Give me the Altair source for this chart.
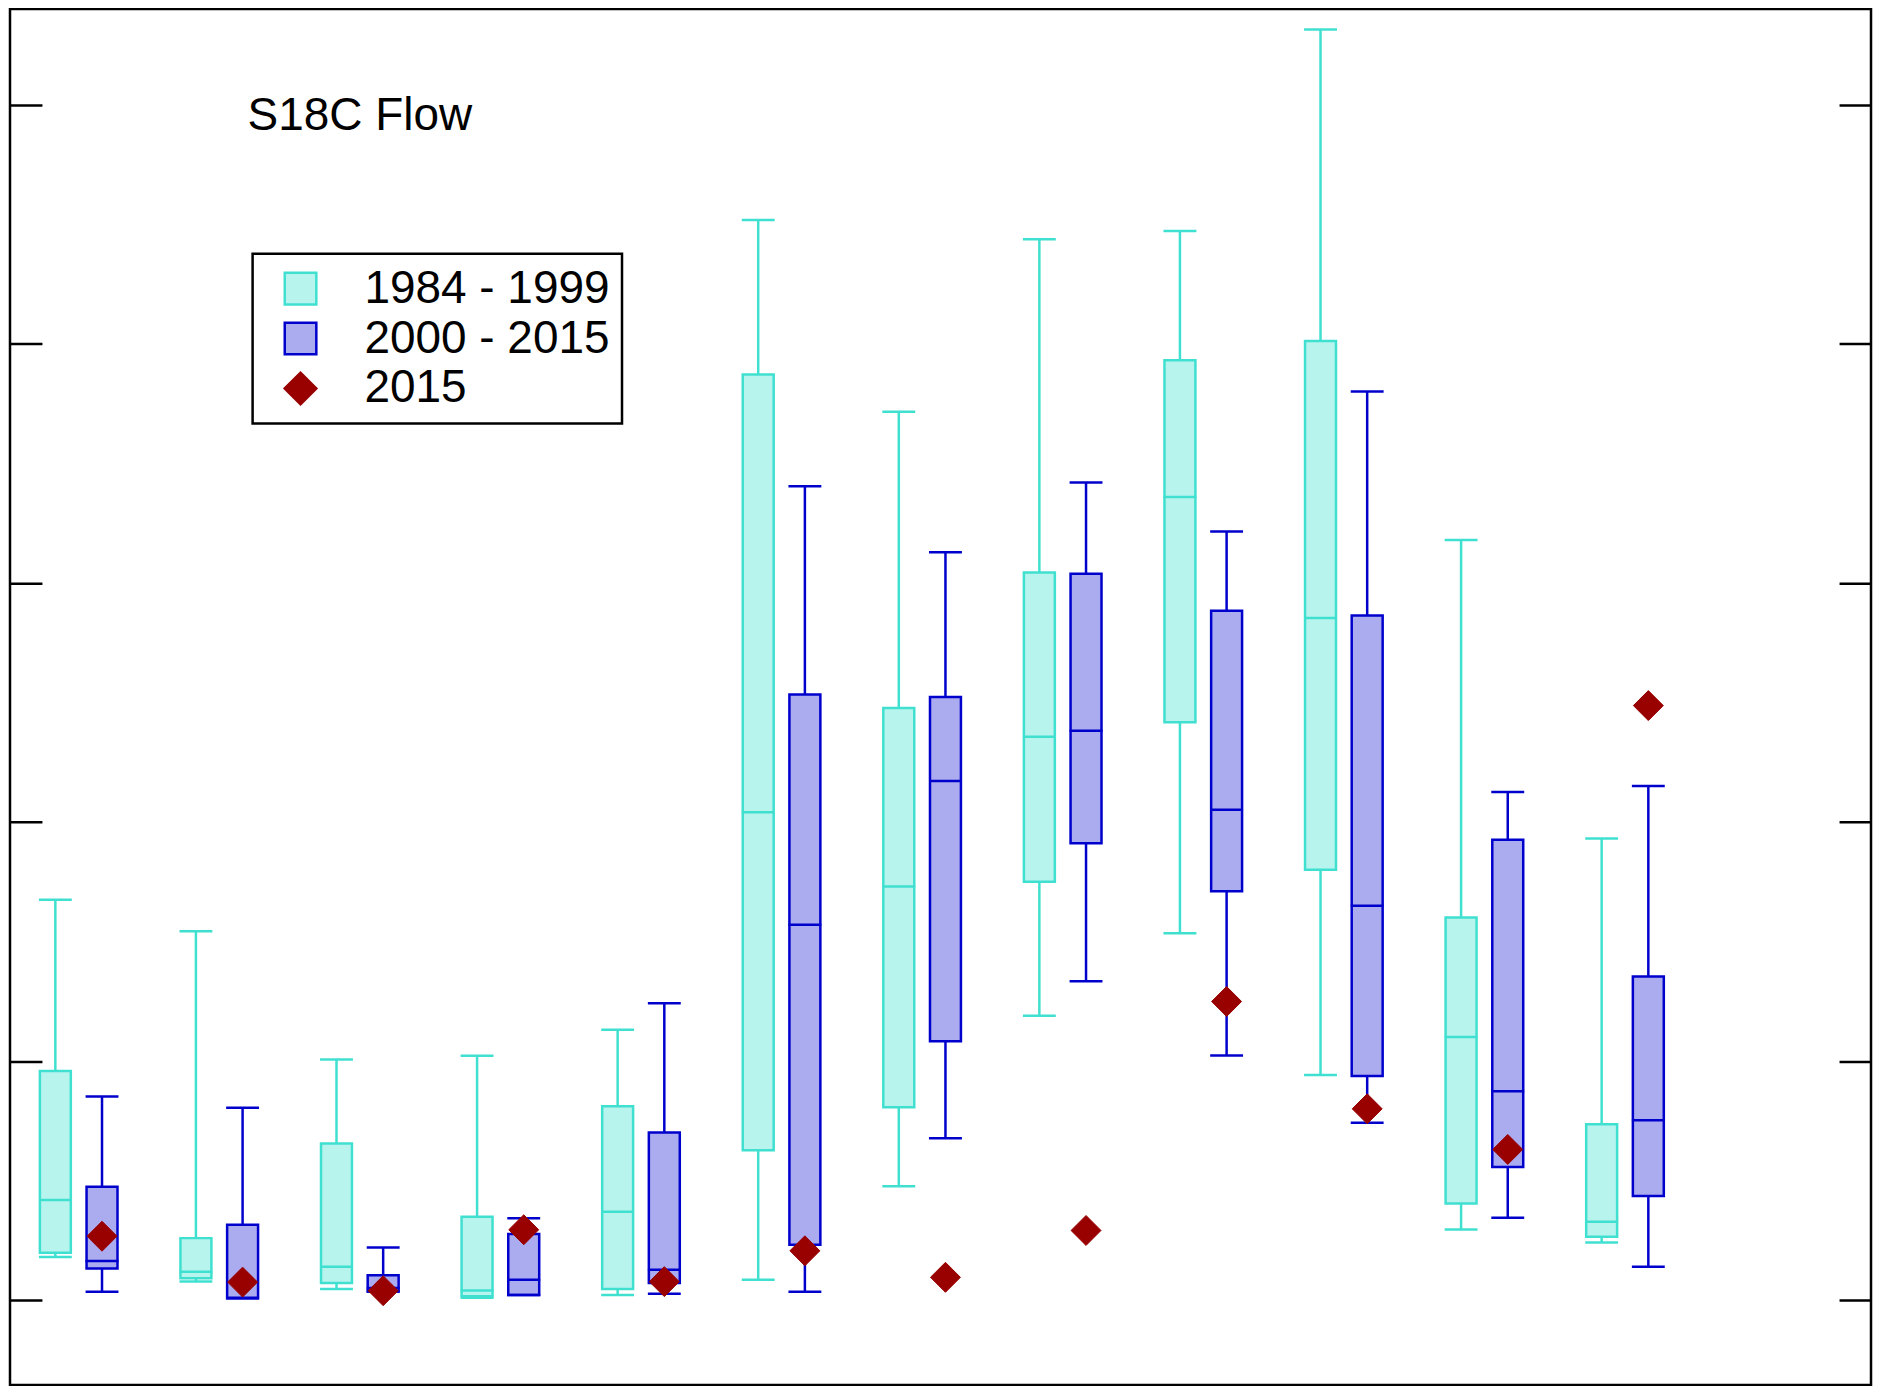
import altair as alt
import pandas as pd

months = list(range(1, 13))
series_names = ["1984 - 1999", "2000 - 2015", "2015"]

# 1984 - 1999 box statistics
a_low  = [180,   78,   46,   10,   21,   85,  476, 1189, 1535,  941,  295,  241]
a_q1   = [198,   91,   71,   16,   46,  627,  807, 1750, 2417, 1800,  404,  265]
a_med  = [418,  118,  139,   40,  369, 2041, 1730, 2357, 3360, 2854, 1100,  327]
a_q3   = [958,  259,  655,  348,  811, 3872, 2477, 3044, 3932, 4012, 1600,  735]
a_high = [1675, 1543, 1006, 1022, 1131, 4519, 3716, 4438, 4473, 5316, 3180, 1931]

# 2000 - 2015 box statistics
b_low  = [35,     7,   36,   21,   26,   35,  677, 1334, 1023,  742,  344,  139]
b_q1   = [132,    7,   36,   21,   71,  231, 1083, 1911, 1710,  937,  557,  435]
b_med  = [163,   10,   50,   85,  127, 1570, 2172, 2382, 2051, 1650,  873,  752]
b_q3   = [474,  315,  104,  276,  701, 2533, 2523, 3039, 2884, 2864, 1926, 1354]
b_high = [852,  804,  220,  342, 1242, 3405, 3129, 3420, 3215, 3801, 2126, 2151]

# 2015 observations
obs_2015 = [267, 75, 39, 294, 77, 206, 95, 291, 1249, 800, 630, 2487]

y_ticks = [0, 1000, 2000, 3000, 4000, 5000]

rows = []
for i, m in enumerate(months):
    rows.append(dict(month=m, series=series_names[0], low=a_low[i], q1=a_q1[i],
                     med=a_med[i], q3=a_q3[i], high=a_high[i]))
    rows.append(dict(month=m, series=series_names[1], low=b_low[i], q1=b_q1[i],
                     med=b_med[i], q3=b_q3[i], high=b_high[i]))
box_df = pd.DataFrame(rows)
obs_df = pd.DataFrame(dict(month=months, series=series_names[2], value=obs_2015))

CYAN = "#40E0D0"
BLUE = "#0000CD"
RED = "#990000"

legend = alt.Legend(
    title=None, orient="none", legendX=243, legendY=245,
    strokeColor="black", fillColor="white", padding=12,
    labelFont="Liberation Sans", labelFontSize=46, labelColor="black",
    symbolSize=1000, symbolStrokeWidth=2.5, symbolOffset=13,
    labelOffset=41, rowPadding=4, labelLimit=600,
)

fill_enc = alt.Fill("series:N", scale=alt.Scale(domain=series_names,
                    range=["#b8f4ee", "#ababef", RED]), legend=legend)
stroke_enc = alt.Stroke("series:N", scale=alt.Scale(domain=series_names,
                        range=[CYAN, BLUE, RED]), legend=legend)

W, H = 1864, 1378
xscale = alt.Scale(domain=[0.5114, 0.5114 + W / 140.8], nice=False, zero=False, padding=0)
yscale = alt.Scale(domain=[5401 - H / 0.2394, 5401], nice=False, zero=False, padding=0)

axis_common = dict(values=y_ticks, labels=False, domain=False, grid=False,
                   title=None, tickSize=32, tickWidth=2.5, tickColor="black",
                   offset=-32)
left_axis = alt.Axis(orient="left", **axis_common)
right_axis = alt.Axis(orient="right", **axis_common)

base = alt.Chart(box_df).transform_calculate(
    pos="datum.month + (datum.series == '1984 - 1999' ? -0.166 : 0.166)"
).transform_calculate(
    xl="datum.pos - 0.117", xr="datum.pos + 0.117"
)

X = alt.X("pos:Q", scale=xscale, axis=None)

whisk_low = base.mark_rule(strokeWidth=2.5).encode(
    x=X, y=alt.Y("low:Q", scale=yscale, axis=left_axis), y2="q1:Q", stroke=stroke_enc)
whisk_high = base.mark_rule(strokeWidth=2.5).encode(
    x=X, y=alt.Y("q3:Q", scale=yscale, axis=None), y2="high:Q", stroke=stroke_enc)

boxes = base.mark_bar(size=31, strokeWidth=2.5, opacity=1).encode(
    x=X, y=alt.Y("q1:Q", scale=yscale, axis=None), y2="q3:Q",
    fill=fill_enc, stroke=stroke_enc)

def hline(field, axis=None):
    return base.mark_rule(strokeWidth=2.5).encode(
        x=alt.X("xl:Q", scale=xscale, axis=None), x2="xr:Q",
        y=alt.Y(f"{field}:Q", scale=yscale, axis=axis), stroke=stroke_enc)

medians = hline("med")
caps_low = hline("low")
caps_high = hline("high", axis=right_axis)

diamonds = alt.Chart(obs_df).transform_calculate(
    pos="datum.month + 0.166"
).mark_point(filled=True, size=900, opacity=1, strokeWidth=1).encode(
    x=X, y=alt.Y("value:Q", scale=yscale, axis=None),
    fill=fill_enc, stroke=stroke_enc,
    shape=alt.Shape("series:N", scale=alt.Scale(domain=series_names,
                    range=["square", "square", "diamond"]), legend=legend),
)

title = alt.Chart(alt.Data(values=[{"t": "S18C Flow"}])).mark_text(
    align="left", baseline="alphabetic", font="Liberation Sans",
    fontSize=46, color="black"
).encode(x=alt.value(238), y=alt.value(121), text="t:N")

chart = alt.layer(
    whisk_low, whisk_high, boxes, medians, caps_low, caps_high, diamonds, title
).resolve_axis(y="independent").properties(
    width=W, height=H, padding=0
).configure_view(stroke="black", strokeWidth=2.5
).configure_legend(strokeWidth=2.5)

chart.save("out.html", embed_options={"renderer": "svg", "actions": False})
